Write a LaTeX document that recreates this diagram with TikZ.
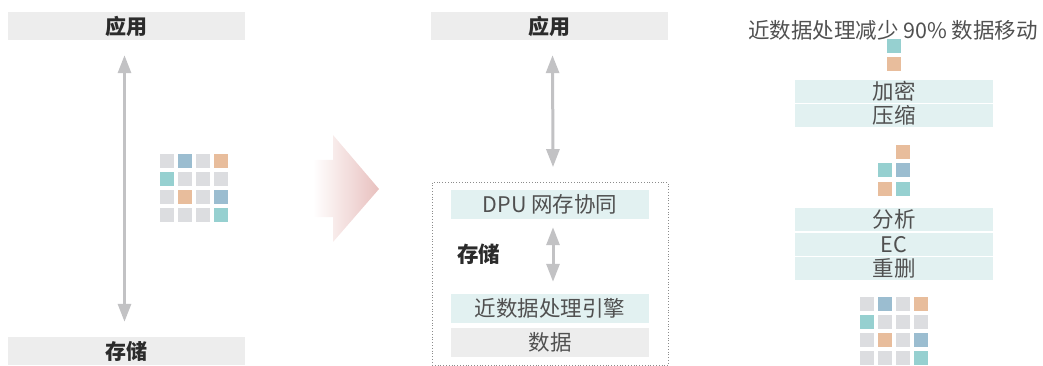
\documentclass[tikz,border=0pt]{standalone}
\usepackage{fontspec}
\setmainfont{Noto Sans CJK SC}
\usetikzlibrary{arrows.meta}
\definecolor{barg}{HTML}{EDEDED}
\definecolor{bart}{HTML}{E2F1F1}
\definecolor{sqg}{HTML}{DCDDE0}
\definecolor{sqb}{HTML}{9BBDD0}
\definecolor{sqo}{HTML}{E8BD9C}
\definecolor{sqt}{HTML}{96D0D0}
\definecolor{arrg}{HTML}{C2C2C4}
\definecolor{pinkr}{HTML}{E8C0BE}
\definecolor{txtl}{HTML}{505050}
\definecolor{txtd}{HTML}{2B2B2B}
\tikzset{
  graybar/.style={fill=barg, draw=none, inner sep=0pt, minimum height=28pt, text=txtd, font=\fontsize{21pt}{21pt}\selectfont\bfseries},
  tealbar/.style={fill=bart, draw=none, inner sep=0pt, minimum width=198pt, text=txtl, font=\fontsize{21.5pt}{21.5pt}\selectfont},
  lightbar/.style={fill=barg, draw=none, inner sep=0pt, minimum width=198pt, minimum height=29pt, text=txtl, font=\fontsize{21.5pt}{21.5pt}\selectfont},
  dblarrow/.style={draw=arrg, line width=3pt, {Triangle[length=18pt,width=13pt]}-{Triangle[length=18pt,width=13pt]}},
  sq/.style={draw=none, inner sep=0pt, minimum size=14pt, anchor=north west},
}
\newcommand{\grid}[2]{%
  \foreach \c [count=\i from 0] in {sqg,sqb,sqg,sqo,sqt,sqg,sqg,sqg,sqg,sqo,sqg,sqb,sqg,sqg,sqg,sqt}{%
    \pgfmathtruncatemacro{\col}{mod(\i,4)}%
    \pgfmathtruncatemacro{\row}{div(\i,4)}%
    \node[sq, fill=\c] at ({#1+18*\col},{#2+18*\row}) {};
  }}
\begin{document}
\begin{tikzpicture}[x=1pt,y=-1pt]
\useasboundingbox (0,0) rectangle (1043,366);
% left panel
\node[graybar, minimum width=237pt] (app1) at (126.5,26) {应用};
\node[graybar, minimum width=237pt] (sto1) at (126.5,351) {存储};
\draw[dblarrow] ([xshift=-2pt,yshift=-15pt]app1.south) -- ([xshift=-2pt,yshift=15pt]sto1.north);
\grid{160}{154}
% big arrow
\shade[left color=white, right color=pinkr, draw=none]
  (313,160) -- (333,160) -- (333,135) -- (379,189) -- (333,242) -- (333,217) -- (313,217) -- cycle;
% middle panel
\node[graybar, minimum width=237pt] (app2) at (549.5,26) {应用};
\node[draw=black!45, dotted, line width=0.8pt, minimum width=236pt, minimum height=183pt, inner sep=0pt] (box) at (550,274) {};
\draw[dblarrow] ([xshift=3pt,yshift=-15pt]app2.south) -- ([xshift=3pt,yshift=15pt]box.north);
\node[tealbar, minimum height=29pt] (dpu) at (550,204.5) {DPU 网存协同};
\node[tealbar, minimum height=29pt] (ndp) at (550,308.5) {近数据处理引擎};
\node[lightbar] (data) at (550,342.5) {数据};
\draw[dblarrow] ([xshift=3pt,yshift=-8pt]dpu.south) -- ([xshift=3pt,yshift=12pt]ndp.north);
\node[text=txtd, font=\fontsize{21.5pt}{21.5pt}\selectfont\bfseries, inner sep=0pt] (stolbl) at (478.5,254) {存储};
% right panel
\node[text=txtl, font=\fontsize{21.5pt}{21.5pt}\selectfont, inner sep=0pt] (title) at (893,30) {近数据处理减少 90\% 数据移动};
\node[sq, fill=sqt] (r1) at (887,39) {};
\node[sq, fill=sqo] (r2) at (887,57) {};
\node[tealbar, minimum height=23pt] (enc) at (894,91.5) {加密};
\node[tealbar, minimum height=23pt] (cmp) at (894,115.5) {压缩};
\node[sq, fill=sqo] (g1) at (896,145) {};
\node[sq, fill=sqt] (g2) at (878,163) {};
\node[sq, fill=sqb] (g3) at (896,163) {};
\node[sq, fill=sqo] (g4) at (878,182) {};
\node[sq, fill=sqt] (g5) at (896,182) {};
\node[tealbar, minimum height=23pt] (ana) at (894,219.5) {分析};
\node[tealbar, minimum height=23pt] (ec) at (894,244.5) {EC};
\node[tealbar, minimum height=23pt] (dedup) at (894,268.5) {重删};
\grid{860}{297}
\end{tikzpicture}
\end{document}
